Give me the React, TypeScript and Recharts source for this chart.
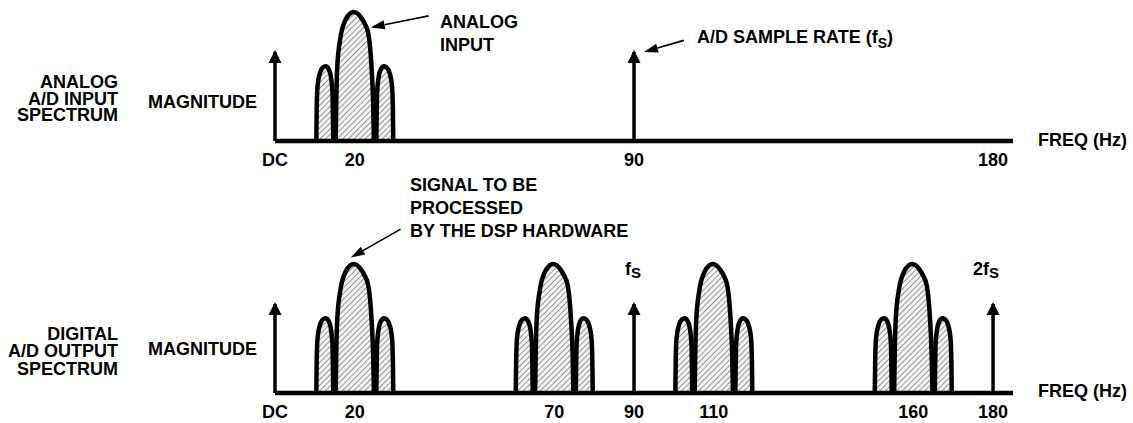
import { ComposedChart, Area, Line, XAxis, YAxis, ReferenceLine } from "recharts";

const FONT = "'Liberation Sans', Arial, Helvetica, sans-serif";

// frequency ticks (Hz), 0 is shown as DC
const TOP_TICKS = [0, 20, 90, 180];
const BOTTOM_TICKS = [0, 20, 70, 90, 110, 160, 180];

// vertical arrows: DC, fS, 2fS
const TOP_LINES = [0, 90];
const BOTTOM_LINES = [0, 90, 180];
const LINE_MAG = 69;

// band centres (Hz)
const TOP_BANDS = [20];
const BOTTOM_BANDS = [20, 70, 110, 160];

// lobe outlines: offset from lobe centre (Hz) and relative magnitude
const MAIN_DF = [-4.8, -4.65, -4.4, -3.6, -2.3, -1.1, -0.3, 0.6, 1.5, 2.3, 3.4, 4.2, 4.6, 4.8];
const MAIN_MAG = [0, 30, 57, 80, 94, 99, 100, 99, 96, 92, 83, 57, 30, 0];
const SIDE_DF = [-2.15, -2.05, -1.85, -1.3, -0.5, 0.2, 0.9, 1.5, 1.9, 2.1];
const SIDE_MAG = [0, 25, 42, 52, 57, 58, 56, 50, 38, 0];
const SIDE_SHIFT = 7.5;

// annotation pointers: [tail, head] in (Hz, magnitude)
const ANALOG_POINTER = [{ x: 38.5, y: 97 }, { x: 24, y: 88 }];
const RATE_POINTER = [{ x: 102.5, y: 78 }, { x: 92.5, y: 69 }];
const SIGNAL_POINTER = [{ x: 31.5, y: 127 }, { x: 19, y: 105 }];

type Pt = { f: number; m: number };

function bandLobes(c: number): Pt[][] {
  const left = SIDE_DF.map((d, i) => ({ f: c - SIDE_SHIFT + d, m: SIDE_MAG[i] }));
  const right = SIDE_DF.map((d, i) => ({ f: c + SIDE_SHIFT - d, m: SIDE_MAG[i] })).reverse();
  const main = MAIN_DF.map((d, i) => ({ f: c + d, m: MAIN_MAG[i] }));
  return [left, right, main];
}

function ArrowHead(props: any) {
  const { cx, cy, index } = props;
  if (index !== 1 || cx == null) return <g key={"d" + index} />;
  return (
    <polygon
      key={"d" + index}
      points={`${cx},${cy - 2} ${cx - 6.5},${cy + 11} ${cx + 6.5},${cy + 11}`}
      fill="#000"
    />
  );
}

function Pointer(props: any) {
  const { x1, y1, x2, y2 } = props;
  const dx = x2 - x1;
  const dy = y2 - y1;
  const len = Math.sqrt(dx * dx + dy * dy) || 1;
  const ux = dx / len;
  const uy = dy / len;
  const bx = x2 - ux * 14;
  const by = y2 - uy * 14;
  const px = -uy * 4.5;
  const py = ux * 4.5;
  return (
    <g>
      <line x1={x1} y1={y1} x2={bx} y2={by} stroke="#000" strokeWidth={1.6} />
      <polygon points={`${x2},${y2} ${bx + px},${by + py} ${bx - px},${by - py}`} fill="#000" />
    </g>
  );
}

interface PanelProps {
  top: number;
  height: number;
  marginTop: number;
  ticks: number[];
  lines: number[];
  bands: number[];
  hatchId: string;
  pointers: { x: number; y: number }[][];
}

function Panel({ top, height, marginTop, ticks, lines, bands, hatchId, pointers }: PanelProps) {
  const lobes = bands.flatMap(bandLobes);
  return (
    <div style={{ position: "absolute", left: 0, top }}>
      <ComposedChart
        width={1133}
        height={height}
        margin={{ top: marginTop, right: 120, bottom: 0, left: 275 }}
      >
        <defs>
          <pattern
            id={hatchId}
            patternUnits="userSpaceOnUse"
            width={4}
            height={4}
            patternTransform="rotate(45)"
          >
            <rect width={4} height={4} fill="#f4f4f4" />
            <line x1={0} y1={0} x2={0} y2={4} stroke="#777" strokeWidth={1.5} />
          </pattern>
        </defs>
        <XAxis
          dataKey="f"
          type="number"
          domain={[0, 185]}
          ticks={ticks}
          interval={0}
          tickFormatter={(v) => (v === 0 ? "DC" : String(v))}
          tickLine={false}
          tickSize={6}
          tickMargin={6}
          height={30}
          axisLine={{ stroke: "#000", strokeWidth: 4.5 }}
          tick={{ fill: "#000", fontSize: 18, fontWeight: 700, fontFamily: FONT }}
        />
        <YAxis hide type="number" domain={[0, 100]} width={0} />
        {lobes.map((d, i) => (
          <Area
            key={"lobe" + i}
            data={d}
            dataKey="m"
            type="monotone"
            stroke="#000"
            strokeWidth={4.5}
            strokeLinejoin="round"
            fill={`url(#${hatchId})`}
            fillOpacity={1}
            baseValue={0}
            dot={false}
            activeDot={false}
            isAnimationActive={false}
          />
        ))}
        {lines.map((f) => (
          <Line
            key={"arrow" + f}
            data={[
              { f, m: 0 },
              { f, m: LINE_MAG },
            ]}
            dataKey="m"
            type="linear"
            stroke="#000"
            strokeWidth={3.5}
            dot={ArrowHead}
            activeDot={false}
            isAnimationActive={false}
          />
        ))}
        {pointers.map((seg, i) => (
          <ReferenceLine
            key={"ptr" + i}
            segment={seg}
            ifOverflow="visible"
            shape={Pointer}
          />
        ))}
      </ComposedChart>
    </div>
  );
}

export default function App() {
  return (
    <div
      style={{
        position: "absolute",
        left: 0,
        top: 0,
        width: 1133,
        height: 423,
        overflow: "hidden",
        background: "#fff",
      }}
    >
      <Panel
        top={0}
        height={171}
        marginTop={12}
        ticks={TOP_TICKS}
        lines={TOP_LINES}
        bands={TOP_BANDS}
        hatchId="hatchTop"
        pointers={[ANALOG_POINTER, RATE_POINTER]}
      />
      <Panel
        top={212}
        height={211}
        marginTop={52}
        ticks={BOTTOM_TICKS}
        lines={BOTTOM_LINES}
        bands={BOTTOM_BANDS}
        hatchId="hatchBottom"
        pointers={[SIGNAL_POINTER]}
      />
      <svg
        width={1133}
        height={423}
        style={{ position: "absolute", left: 0, top: 0, pointerEvents: "none" }}
        fontFamily={FONT}
        fontWeight={700}
        fontSize={18}
        fill="#000"
      >
        <text x={118} y={88} textAnchor="end">ANALOG</text>
        <text x={118} y={105} textAnchor="end">A/D INPUT</text>
        <text x={118} y={121} textAnchor="end">SPECTRUM</text>
        <text x={148} y={108}>MAGNITUDE</text>

        <text x={440} y={28}>ANALOG</text>
        <text x={440} y={51}>INPUT</text>
        <text x={697} y={43}>
          A/D SAMPLE RATE (f<tspan fontSize={14} dy={5}>S</tspan>
          <tspan dy={-5}>)</tspan>
        </text>
        <text x={1038} y={146}>FREQ (Hz)</text>

        <text x={410} y={191}>SIGNAL TO BE</text>
        <text x={410} y={214}>PROCESSED</text>
        <text x={410} y={237}>BY THE DSP HARDWARE</text>

        <text x={625} y={275}>
          f<tspan fontSize={15} dy={3}>S</tspan>
        </text>
        <text x={973} y={275}>
          2f<tspan fontSize={15} dy={3}>S</tspan>
        </text>

        <text x={118} y={340} textAnchor="end">DIGITAL</text>
        <text x={118} y={357} textAnchor="end">A/D OUTPUT</text>
        <text x={118} y={375} textAnchor="end">SPECTRUM</text>
        <text x={148} y={355}>MAGNITUDE</text>
        <text x={1038} y={397}>FREQ (Hz)</text>
      </svg>
    </div>
  );
}
